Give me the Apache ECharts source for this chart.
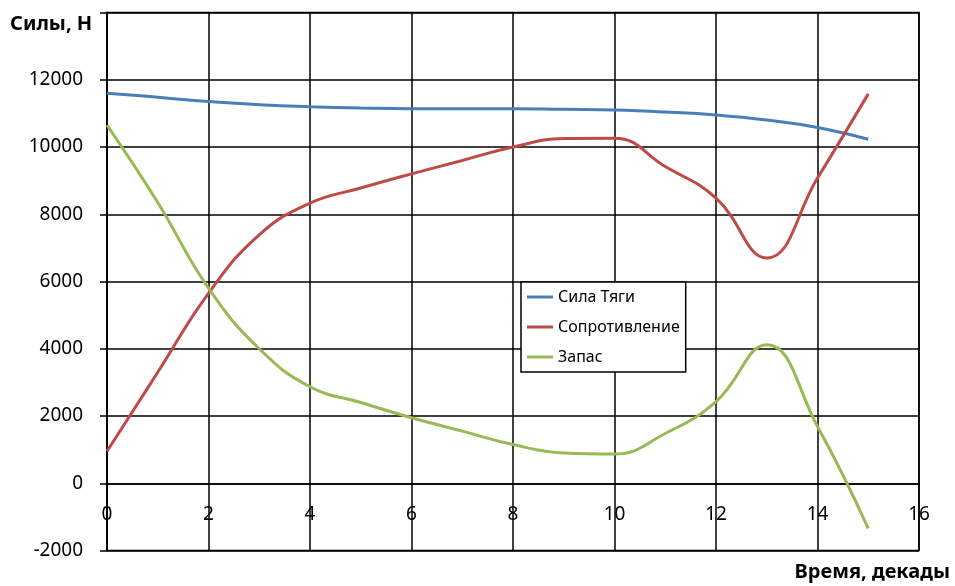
<!DOCTYPE html>
<html><head><meta charset="utf-8">
<script src="https://cdn.jsdelivr.net/npm/echarts@6/dist/echarts.min.js"></script>
<style>html,body{margin:0;padding:0;background:#fff}#c{width:955px;height:586px}</style>
</head><body><div id="c"></div>
<script>
const xValues = [0,1,2,3,4,5,6,7,8,9,10,11,12,13,14,15];
const thrust = [11600,11480,11350,11260,11200,11160,11140,11140,11140,11120,11100,11040,10950,10800,10580,10230];
const resistance = [950,3300,5650,7390,8330,8780,9200,9600,10000,10250,10260,9420,8480,6700,9080,11580];
const reserve = [10650,8350,5800,4000,2870,2400,1950,1550,1150,900,870,1480,2430,4120,1690,-1340];
const seriesNames = ['Сила Тяги','Сопротивление','Запас'];
const colors = ['#4a7ebb','#be4b48','#98b954'];
const yAxisName = 'Силы, Н';
const xAxisName = 'Время, декады';

const FONT = 'Noto Sans';
const chart = echarts.init(document.getElementById('c'), null, {renderer:'canvas'});
const pair = arr => xValues.map((x,i)=>[x,arr[i]]);
const mk = (name, arr, color) => ({
  name, type:'line', data: pair(arr), smooth: 0.45, showSymbol:false,
  lineStyle:{color, width:3}, itemStyle:{color}
});
chart.setOption({
  animation:false,
  backgroundColor:'#fff',
  grid:{left:107, right:36, top:12.5, bottom:35.5, show:true, borderColor:'#000', borderWidth:1.5},
  xAxis:{type:'value', min:0, max:16, interval:2, offset:-67.25,
    axisLine:{show:true, onZero:false, lineStyle:{color:'#000', width:1.5}},
    axisTick:{show:false},
    axisLabel:{color:'#000', fontFamily:FONT, fontSize:19, margin:22},
    splitLine:{show:true, lineStyle:{color:'#000', width:1.5}}},
  yAxis:{type:'value', min:-2000, max:14000, interval:2000,
    axisLine:{show:true, onZero:false, lineStyle:{color:'#000', width:1.5}},
    axisTick:{show:true, length:7, lineStyle:{color:'#000', width:1.5}},
    axisLabel:{color:'#000', fontFamily:FONT, fontSize:19, margin:24,
      formatter: v => v===14000 ? '' : String(v)},
    splitLine:{show:true, lineStyle:{color:'#000', width:1.5}}},
  legend:{orient:'vertical', left:521, top:282,
    backgroundColor:'#fff', borderColor:'#000', borderWidth:1.5,
    padding:[5,6,5,6], itemGap:10, itemWidth:26, itemHeight:3, icon:'rect',
    textStyle:{fontFamily:FONT, fontSize:16, color:'#000', lineHeight:20},
    data: seriesNames},
  graphic:[
    {type:'text', left:10, top:14, style:{text:yAxisName, font:'bold 20px "Noto Sans"', fill:'#000'}},
    {type:'text', right:5, top:562, style:{text:xAxisName, font:'bold 20px "Noto Sans"', fill:'#000'}}
  ],
  series:[mk(seriesNames[0],thrust,colors[0]), mk(seriesNames[1],resistance,colors[1]), mk(seriesNames[2],reserve,colors[2])]
});
</script></body></html>
